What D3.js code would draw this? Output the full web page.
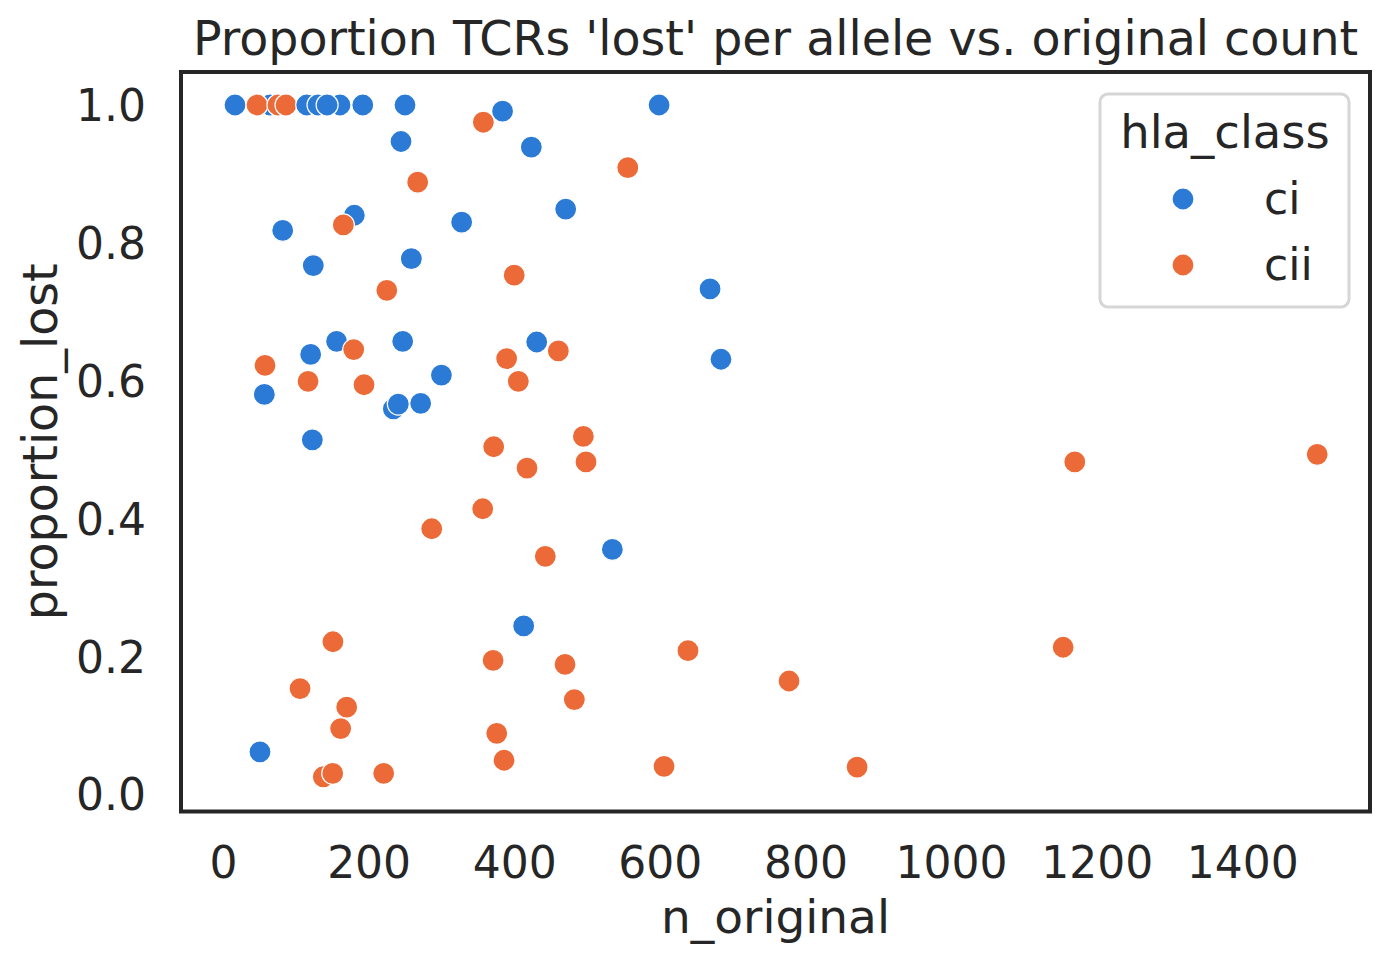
<!DOCTYPE html>
<html>
<head>
<meta charset="utf-8">
<script src="https://cdn.jsdelivr.net/npm/d3@7"></script>
<style>
  body { margin: 0; background: #fff; }
  svg { font-family: "DejaVu Sans", sans-serif; }
</style>
</head>
<body>
<div id="chart"></div>
<script>
// ===== DATA =====
const nOriginal = [
  16.5, 64.6, 46.7, 75.5, 86.5, 115, 130.5, 160.7, 143, 192, 250, 599,
  357.6, 384, 244.5, 423.5, 556, 267.4, 470.7, 180.4, 165.3, 327.8, 82, 124,
  258.7, 400, 225, 669, 684, 156, 179.5, 246.8, 120.4, 57.7, 56.8, 116.8,
  193.7, 300, 234, 240.8, 271.5, 122.7, 389.6, 430.9, 460.6, 405.7, 371.8, 495,
  498.6, 417.6, 356.7, 286.7, 442.7, 534.8, 1170, 1503, 1154, 638.7, 777.5, 871,
  605.8, 413, 151, 371, 469.8, 105.8, 482.6, 169.9, 161.6, 376, 386, 50.8,
  137.8, 150.7, 220.7
];
const proportionLost = [
  1.0, 1.0, 1.0, 1.0, 1.0, 1.0, 1.0, 1.0, 1.0, 1.0, 1.0, 1.0,
  0.975, 0.991, 0.947, 0.939, 0.909, 0.888, 0.849, 0.840, 0.826, 0.830, 0.818, 0.767,
  0.777, 0.753, 0.731, 0.733, 0.631, 0.657, 0.645, 0.657, 0.638, 0.622, 0.580, 0.599,
  0.594, 0.608, 0.559, 0.566, 0.567, 0.514, 0.632, 0.656, 0.643, 0.599, 0.504, 0.519,
  0.482, 0.473, 0.414, 0.385, 0.345, 0.355, 0.482, 0.493, 0.213, 0.208, 0.164, 0.039,
  0.040, 0.244, 0.221, 0.194, 0.188, 0.153, 0.137, 0.126, 0.095, 0.088, 0.049, 0.061,
  0.025, 0.030, 0.030
];
const hlaClass = [
  "ci", "ci", "cii", "cii", "cii", "ci", "ci", "ci", "ci", "ci", "ci", "ci",
  "cii", "ci", "ci", "ci", "cii", "cii", "ci", "ci", "cii", "ci", "ci", "ci",
  "ci", "cii", "cii", "ci", "ci", "ci", "cii", "ci", "ci", "cii", "ci", "cii",
  "cii", "ci", "ci", "ci", "ci", "ci", "cii", "ci", "cii", "cii", "cii", "cii",
  "cii", "cii", "cii", "cii", "cii", "ci", "cii", "cii", "cii", "cii", "cii", "cii",
  "cii", "ci", "cii", "cii", "cii", "cii", "cii", "cii", "cii", "cii", "cii", "ci",
  "cii", "cii", "cii"
];
const classes = ["ci", "cii"];
const classColors = ["#2a7ad6", "#ec6a37"];
const xTicks = [0, 200, 400, 600, 800, 1000, 1200, 1400];
const yTicks = [0.0, 0.2, 0.4, 0.6, 0.8, 1.0];

const points = nOriginal.map((n, i) => ({ n, p: proportionLost[i], cls: hlaClass[i] }));

// ===== LAYOUT =====
const width = 1390;
const height = 966;
const plot = { left: 181, right: 1370, top: 72, bottom: 811.5 };
const ink = "#262626";

const svg = d3.select("#chart").append("svg")
  .attr("width", width)
  .attr("height", height);

const x = d3.scaleLinear()
  .domain([-57.7, 1575.5])
  .range([plot.left, plot.right]);

const y = d3.scaleLinear()
  .domain([-0.0254, 1.0479])
  .range([plot.bottom, plot.top]);

const color = d3.scaleOrdinal().domain(classes).range(classColors);

// ===== AXES =====
const xAxis = svg.append("g")
  .attr("transform", `translate(0,${plot.bottom})`)
  .call(d3.axisBottom(x).tickValues(xTicks).tickSize(0).tickPadding(0).tickFormat(d3.format("d")));
xAxis.select(".domain").remove();
xAxis.selectAll("text")
  .attr("y", 66)
  .attr("dy", 0)
  .attr("fill", ink)
  .attr("font-size", 44)
  .attr("font-family", "DejaVu Sans");

const yAxis = svg.append("g")
  .attr("transform", `translate(${plot.left},0)`)
  .call(d3.axisLeft(y).tickValues(yTicks).tickSize(0).tickPadding(0).tickFormat(d3.format(".1f")));
yAxis.select(".domain").remove();
yAxis.selectAll("text")
  .attr("x", -35)
  .attr("dy", "0.36em")
  .attr("fill", ink)
  .attr("font-size", 44)
  .attr("font-family", "DejaVu Sans");

// ===== POINTS =====
svg.append("g")
  .selectAll("circle")
  .data(points)
  .enter()
  .append("circle")
  .attr("cx", d => x(d.n))
  .attr("cy", d => y(d.p))
  .attr("r", 11)
  .attr("fill", d => color(d.cls))
  .attr("stroke", "#fff")
  .attr("stroke-width", 1.2);

// frame
svg.append("rect")
  .attr("x", plot.left)
  .attr("y", plot.top)
  .attr("width", plot.right - plot.left)
  .attr("height", plot.bottom - plot.top)
  .attr("fill", "none")
  .attr("stroke", ink)
  .attr("stroke-width", 4);

// ===== LABELS =====
svg.append("text")
  .attr("x", (plot.left + plot.right) / 2)
  .attr("y", 55)
  .attr("text-anchor", "middle")
  .attr("font-size", 47.5)
  .attr("fill", ink)
  .text("Proportion TCRs 'lost' per allele vs. original count");

svg.append("text")
  .attr("x", (plot.left + plot.right) / 2)
  .attr("y", 933)
  .attr("text-anchor", "middle")
  .attr("font-size", 47)
  .attr("fill", ink)
  .text("n_original");

svg.append("text")
  .attr("transform", `translate(57,${(plot.top + plot.bottom) / 2}) rotate(-90)`)
  .attr("text-anchor", "middle")
  .attr("font-size", 47.5)
  .attr("fill", ink)
  .text("proportion_lost");

// ===== LEGEND =====
const legend = svg.append("g");

legend.append("rect")
  .attr("x", 1100)
  .attr("y", 94)
  .attr("width", 249)
  .attr("height", 213)
  .attr("rx", 8)
  .attr("fill", "rgba(255,255,255,0.8)")
  .attr("stroke", "#d6d6d6")
  .attr("stroke-width", 3);

legend.append("text")
  .attr("x", 1225)
  .attr("y", 148)
  .attr("text-anchor", "middle")
  .attr("font-size", 46.5)
  .attr("fill", ink)
  .text("hla_class");

classes.forEach((c, i) => {
  const cy = 199 + i * 66;
  legend.append("circle")
    .attr("cx", 1183)
    .attr("cy", cy)
    .attr("r", 11)
    .attr("fill", color(c))
    .attr("stroke", "#fff")
    .attr("stroke-width", 1.2);
  legend.append("text")
    .attr("x", 1264)
    .attr("y", cy + 15)
    .attr("font-size", 44)
    .attr("fill", ink)
    .text(c);
});
</script>
</body>
</html>
